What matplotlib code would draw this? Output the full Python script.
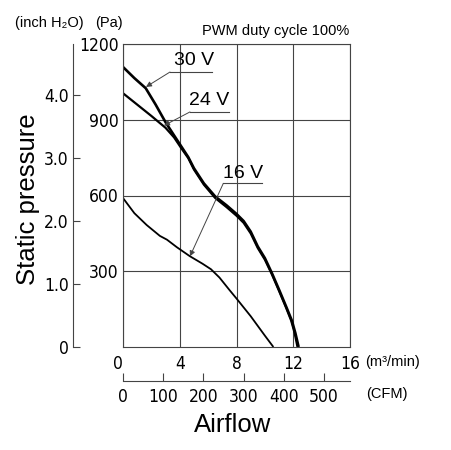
import matplotlib
matplotlib.use("Agg")
from matplotlib import pyplot as plt
from matplotlib import font_manager
import numpy as np

# airflow (m3/min) vs static pressure (Pa)
flow_30v = [0, 0.8, 1.6, 2.3, 3.0, 3.6, 4.1, 4.6, 5.0, 5.7, 6.5, 7.3, 8.0, 8.5, 9.0, 9.5, 10.0, 10.5, 11.0, 11.5, 11.9, 12.15, 12.38]
pres_30v = [1109, 1065, 1025, 960, 890, 838, 795, 752, 708, 648, 596, 561, 527, 499, 457, 398, 352, 292, 227, 160, 105, 55, 0]

flow_24v = [0, 1.0, 2.0, 3.0, 3.6, 4.1, 4.6, 5.0, 5.7, 6.5, 7.3, 8.0, 8.5, 9.0, 9.5, 10.0, 10.5, 11.0, 11.5, 11.85, 12.1, 12.3]
pres_24v = [1005, 960, 915, 868, 830, 788, 748, 703, 643, 590, 554, 520, 492, 450, 392, 346, 287, 222, 155, 105, 55, 0]

flow_16v = [0, 0.8, 1.67, 2.6, 3.1, 3.8, 4.7, 5.6, 6.2, 6.8, 7.5, 8.0, 9.0, 10.0, 10.6]
pres_16v = [590, 530, 483, 440, 425, 395, 360, 330, 308, 275, 226, 192, 122, 45, 0]

x_ticks = [0, 4, 8, 12, 16]
pa_ticks = [300, 600, 900, 1200]
inch_ticks = [0, 1, 2, 3, 4]
inch_labels = ["0", "1.0", "2.0", "3.0", "4.0"]
cfm_ticks = [0, 100, 200, 300, 400, 500]

# label text, text centre, underline (x0, x1, y), arrow tip
labels = [
    ("30 V", (4.99, 1133), (3.31, 6.27, 1089), (1.62, 1030)),
    ("24 V", (6.10, 978), (4.72, 7.47, 931), (2.89, 877)),
    ("16 V", (8.46, 688), (7.07, 9.77, 648), (4.72, 359)),
]

PA_PER_INCH = 249.089
CFM_PER_M3 = 35.3147

regular = ["Liberation Sans", "DejaVu Sans"]
grey = "#444444"

# condensed, upright, normal-weight face for the tick numbers
def pick_condensed():
    found = []
    for f in font_manager.fontManager.ttflist:
        narrow = "Narrow" in f.name or "Condensed" in f.name or "ondensed" in str(f.stretch)
        w = f.weight if isinstance(f.weight, int) else font_manager.weight_dict.get(f.weight, 400)
        if narrow and f.style == "normal" and w <= 450 and "Bold" not in f.fname:
            rank = 0 if "Liberation" in f.name else 1
            found.append((rank, f.fname))
    found.sort()
    return found[0][1] if found else None

cond_file = pick_condensed()
if cond_file:
    tick_prop = font_manager.FontProperties(fname=cond_file, size=12.5)
else:
    tick_prop = font_manager.FontProperties(family="Liberation Sans", size=12)

fig = plt.figure(figsize=(4.51, 4.5), dpi=100)
ax = fig.add_axes([123 / 451, 103 / 450, 227 / 451, 303 / 450])

ax.plot(flow_24v, pres_24v, color="black", lw=1.6, solid_capstyle="butt")
ax.plot(flow_30v, pres_30v, color="black", lw=1.9, solid_capstyle="butt")
ax.plot(flow_16v, pres_16v, color="black", lw=1.3, solid_capstyle="butt")

ax.set_xlim(0, 16)
ax.set_ylim(0, 1200)
ax.set_xticks(x_ticks)
ax.set_yticks(pa_ticks)
ax.set_xticklabels([str(t) for t in x_ticks], fontproperties=tick_prop)
ax.set_yticklabels([str(t) for t in pa_ticks], fontproperties=tick_prop)
ax.tick_params(axis="both", length=0)
ax.tick_params(axis="x", pad=6)
ax.tick_params(axis="y", pad=3)
ax.xaxis.get_major_ticks()[0].label1.set_horizontalalignment("right")
ax.grid(True, color=grey, lw=0.8)
for s in ax.spines.values():
    s.set_color(grey)
    s.set_linewidth(0.8)

# inch H2O axis on the left
sec_y = ax.secondary_yaxis(-50 / 227, functions=(lambda p: p / PA_PER_INCH, lambda i: i * PA_PER_INCH))
sec_y.set_yticks(inch_ticks)
sec_y.set_yticklabels(inch_labels, fontproperties=tick_prop)
sec_y.tick_params(direction="in", length=5, width=0.8, color=grey, pad=3)
sec_y.spines["left"].set_color(grey)
sec_y.spines["left"].set_linewidth(0.8)

# CFM axis below
sec_x = ax.secondary_xaxis(-34 / 303, functions=(lambda m: m * CFM_PER_M3, lambda c: c / CFM_PER_M3))
sec_x.set_xticks(cfm_ticks)
sec_x.set_xticklabels([str(t) for t in cfm_ticks], fontproperties=tick_prop)
sec_x.tick_params(direction="in", length=6, width=0.8, color=grey, pad=5)
sec_x.spines["bottom"].set_color(grey)
sec_x.spines["bottom"].set_linewidth(0.8)

for text, (tx, ty), (ux0, ux1, uy), (ax_, ay_) in labels:
    ax.text(tx, ty, text, family=regular, fontsize=14, ha="center", va="center")
    ax.plot([ux0, ux1], [uy, uy], color=grey, lw=0.8)
    ax.annotate("", xy=(ax_, ay_), xytext=(ux0, uy),
                arrowprops=dict(arrowstyle="-|>", color=grey, lw=0.7,
                                mutation_scale=8, shrinkA=0, shrinkB=0))

fig.text(28 / 451, 1 - 199 / 450, "Static pressure", family=regular, fontsize=18.5,
         rotation=90, ha="center", va="center")
fig.text(233 / 451, 1 - 425 / 450, "Airflow", family=regular, fontsize=18.5,
         ha="center", va="center")
fig.text(365 / 451, 1 - 362 / 450, "(m³/min)", family=regular, fontsize=10.5, va="center")
fig.text(366 / 451, 1 - 394 / 450, "(CFM)", family=regular, fontsize=10.5, va="center")
fig.text(15 / 451, 1 - 23 / 450, "(inch H₂O)", family=regular, fontsize=10.5, va="center")
fig.text(95 / 451, 1 - 23 / 450, "(Pa)", family=regular, fontsize=10.5, va="center")
fig.text(349 / 451, 1 - 31 / 450, "PWM duty cycle 100%", family=regular, fontsize=10.5,
         ha="right", va="center")

fig.savefig("out.png", dpi=100)
